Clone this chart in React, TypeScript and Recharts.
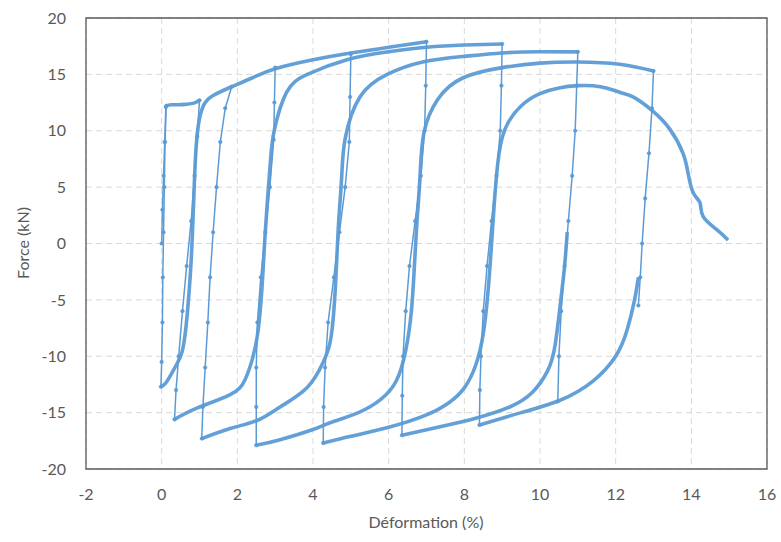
import { LineChart, Line, XAxis, YAxis, CartesianGrid, ReferenceArea } from 'recharts';

// deformation (%) / force (kN) pairs
const initialLoad = [[0, 0], [0.02, 3], [0.05, 6], [0.08, 9], [0.11, 12.1]];
const plateau = [[0.11, 12.2], [0.25, 12.3], [0.45, 12.3], [0.65, 12.35], [0.85, 12.45], [1.0, 12.7]];

// thin (fast) unloading lines
const drop0 = [[0.12, 12.2], [0.09, 9], [0.07, 5], [0.05, 1], [0.03, -3], [0.02, -7], [0.0, -10.5], [-0.02, -12.7]];
const drop1 = [[1.0, 12.7], [0.94, 9.5], [0.87, 6], [0.78, 2], [0.66, -2], [0.55, -6], [0.45, -10], [0.38, -13], [0.34, -15.6]];
const drop2 = [[1.85, 13.9], [1.68, 12], [1.55, 9], [1.45, 5], [1.36, 1], [1.28, -3], [1.22, -7], [1.15, -11], [1.09, -14.5], [1.06, -17.3]];
const drop3 = [[3.0, 15.6], [2.98, 12.5], [2.96, 9.2], [2.86, 5], [2.74, 1], [2.62, -3], [2.53, -7], [2.5, -11], [2.5, -14.5], [2.5, -17.9]];
const drop5 = [[5.0, 16.8], [4.98, 13], [4.96, 9], [4.85, 5], [4.7, 1], [4.55, -3], [4.4, -7], [4.32, -11], [4.28, -14.5], [4.27, -17.7]];
const drop7 = [[7.0, 17.9], [6.98, 14], [6.95, 10], [6.85, 6], [6.7, 2], [6.55, -2], [6.45, -6], [6.38, -10], [6.36, -13.5], [6.35, -17.0]];
const drop9 = [[9.0, 17.7], [8.98, 14], [8.95, 10], [8.85, 6], [8.72, 2], [8.6, -2], [8.5, -6], [8.44, -10], [8.41, -13], [8.4, -16.1]];
const drop11 = [[11.0, 17.0], [10.97, 14], [10.93, 10], [10.85, 6], [10.75, 2], [10.65, -2], [10.56, -6], [10.5, -10], [10.47, -14.0]];
const drop13 = [[13.0, 15.3], [12.96, 12], [12.88, 8], [12.78, 4], [12.7, 0], [12.65, -3], [12.6, -5.5]];

// thick (slow) reloading curves
const reload0 = [[-0.02, -12.7], [0.1, -12.4], [0.25, -11.6], [0.4, -10.7], [0.54, -9.6], [0.64, -7.5], [0.72, -4.5], [0.78, -1.5],
  [0.82, 1.5], [0.86, 5], [0.9, 8], [0.97, 10.5], [1.1, 12.2], [1.35, 13.1], [1.85, 13.9], [2.4, 14.7], [3.0, 15.5], [4.0, 16.3],
  [5.0, 16.9], [6.0, 17.4], [7.0, 17.9]];
const reload1 = [[0.34, -15.6], [0.93, -14.6], [1.81, -13.4], [2.2, -12.1], [2.41, -10.1], [2.55, -7.7], [2.65, -4], [2.72, 0],
  [2.8, 4], [2.88, 7.5], [2.98, 10.1], [3.3, 13.4], [3.85, 15.0], [4.9, 16.3], [6.0, 17.0], [7.0, 17.4], [8.0, 17.6], [9.0, 17.7]];
const reload2 = [[1.06, -17.3], [1.81, -16.4], [2.52, -15.7], [3.13, -14.5], [3.84, -12.8], [4.26, -10.6], [4.45, -8.8], [4.55, -6],
  [4.62, -2], [4.68, 2], [4.76, 6], [4.85, 9.3], [5.24, 13.0], [5.96, 15.0], [6.9, 16.1], [8.0, 16.6], [9.0, 16.9], [10.0, 17.0], [11.0, 17.0]];
const reload3 = [[2.5, -17.9], [3.13, -17.4], [4.0, -16.5], [4.45, -15.9], [5.2, -15.0], [5.8, -13.8], [6.2, -12.2], [6.45, -9.5],
  [6.6, -6], [6.68, -2], [6.75, 2], [6.83, 6], [6.93, 9.8], [7.3, 12.8], [7.97, 14.7], [9.0, 15.6], [10.0, 16.0], [11.0, 16.1],
  [12.1, 15.9], [13.0, 15.3]];
const reload4 = [[4.27, -17.7], [5.0, -17.1], [6.0, -16.3], [7.0, -15.2], [7.6, -14.1], [8.0, -12.8], [8.3, -10.8], [8.5, -8],
  [8.62, -4.5], [8.7, -1], [8.78, 3], [8.88, 7], [9.07, 10.1], [9.5, 12.2], [10.0, 13.3], [10.5, 13.8], [11.0, 14.0], [11.6, 13.9],
  [12.12, 13.4], [12.46, 13.0], [12.96, 11.8], [13.44, 10.1], [13.78, 8.0], [13.91, 6.3], [14.05, 4.5], [14.23, 3.6], [14.31, 2.4],
  [14.68, 1.2], [14.97, 0.3]];
const reload5 = [[6.35, -17.0], [7.3, -16.3], [8.3, -15.5], [9.2, -14.5], [9.8, -13.2], [10.2, -11.3], [10.4, -9], [10.55, -5],
  [10.65, -2], [10.72, 1]];
const reload6 = [[8.4, -16.1], [9.5, -15.0], [10.53, -13.9], [11.4, -12.2], [12.0, -10.0], [12.3, -7.7], [12.5, -5], [12.6, -3]];

const xTicks = [-2, 0, 2, 4, 6, 8, 10, 12, 14, 16];
const yTicks = [-20, -15, -10, -5, 0, 5, 10, 15, 20];

const thinSeries = [initialLoad, drop0, drop1, drop2, drop3, drop5, drop7, drop9, drop11, drop13];
const thickSeries = [plateau, reload0, reload1, reload2, reload3, reload4, reload5, reload6];

const toPts = (a: number[][]) => a.map(([x, y]) => ({ x, y }));

const BLUE = '#5B9BD5';
const FONT = 'Lato, "Liberation Sans", sans-serif';

export default function App() {
  return (
    <div style={{ position: 'absolute', left: 0, top: 0, width: 781, height: 542, background: '#fff', fontFamily: FONT }}>
      <LineChart width={781} height={542} margin={{ top: 18, right: 14, bottom: 43, left: 46 }}>
        <CartesianGrid stroke="#d9d9d9" strokeDasharray="6 4" />
        <XAxis
          dataKey="x"
          type="number"
          domain={[-2, 16]}
          ticks={xTicks}
          allowDataOverflow
          height={30}
          axisLine={false}
          tickLine={false}
          tickSize={8}
          tickMargin={12}
          tick={{ fill: '#595959', fontSize: 16, fontFamily: FONT }}
        />
        <YAxis
          dataKey="y"
          type="number"
          domain={[-20, 20]}
          ticks={yTicks}
          allowDataOverflow
          width={40}
          axisLine={false}
          tickLine={false}
          tickSize={8}
          tickMargin={12}
          tick={{ fill: '#595959', fontSize: 16, fontFamily: FONT }}
        />
        <ReferenceArea x1={-2} x2={16} y1={-20} y2={20} fill="none" stroke="#595959" strokeWidth={1.3} />
        {thickSeries.map((s, i) => (
          <Line
            key={`thick-${i}`}
            data={toPts(s)}
            dataKey="y"
            type="natural"
            stroke={BLUE}
            strokeWidth={3.6}
            strokeOpacity={0.95}
            dot={false}
            isAnimationActive={false}
          />
        ))}
        {thinSeries.map((s, i) => (
          <Line
            key={`thin-${i}`}
            data={toPts(s)}
            dataKey="y"
            type="linear"
            stroke={BLUE}
            strokeWidth={1.5}
            dot={{ r: 1.8, fill: BLUE, stroke: BLUE, strokeWidth: 0.5 }}
            isAnimationActive={false}
          />
        ))}
      </LineChart>
      <div style={{ position: 'absolute', left: 0, top: 512, width: 852, textAlign: 'center', fontSize: 16, color: '#595959' }}>
        Déformation (%)
      </div>
      <div
        style={{
          position: 'absolute', left: 22, top: 243, fontSize: 16, color: '#595959', whiteSpace: 'nowrap',
          transform: 'translate(-50%, -50%) rotate(-90deg)',
        }}
      >
        Force (kN)
      </div>
    </div>
  );
}
